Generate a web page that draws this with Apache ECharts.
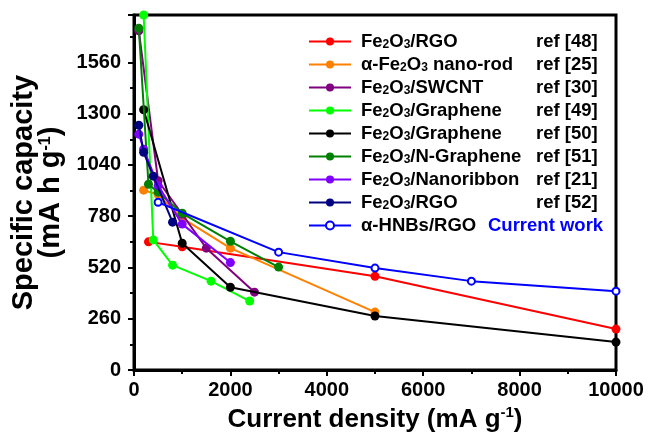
<!DOCTYPE html>
<html><head><meta charset="utf-8">
<script src="https://cdn.jsdelivr.net/npm/echarts@6/dist/echarts.min.js"></script>
<style>html,body{margin:0;padding:0;background:#fff}#c{width:650px;height:438px}</style>
</head><body><div id="c"></div>
<script>
// ---- data ----
const xTicks = [0, 2000, 4000, 6000, 8000, 10000];
const yTicks = [0, 260, 520, 780, 1040, 1300, 1560];
const seriesNames = ['Fe2O3/RGO', 'α-Fe2O3 nano-rod', 'Fe2O3/SWCNT', 'Fe2O3/Graphene', 'Fe2O3/Graphene',
  'Fe2O3/N-Graphene', 'Fe2O3/Nanoribbon', 'Fe2O3/RGO', 'α-HNBs/RGO'];
const refs = ['ref [48]', 'ref [25]', 'ref [30]', 'ref [49]', 'ref [50]', 'ref [51]', 'ref [21]', 'ref [52]', 'Current work'];
const rgo48 = [[300, 650], [1000, 625], [5000, 476], [10000, 208]];
const nanorod25 = [[200, 912], [500, 890], [1000, 770], [2000, 618], [5000, 294]];
const swcnt30 = [[100, 1720], [500, 960], [1000, 790], [1500, 618], [2500, 395]];
const graphene49 = [[200, 1800], [400, 660], [800, 532], [1600, 451], [2400, 350]];
const graphene50 = [[200, 1320], [1000, 643], [2000, 420], [5000, 274], [10000, 142]];
const ngraphene51 = [[100, 1733], [300, 942], [500, 902], [1000, 795], [2000, 653], [3000, 522]];
const nanoribbon21 = [[100, 1196], [200, 1120], [500, 935], [1000, 740], [2000, 545]];
const rgo52 = [[100, 1241], [200, 1104], [400, 983], [800, 750]];
const current = [[500, 851], [3000, 598], [5000, 517], [7000, 451], [10000, 400]];
const allData = [rgo48, nanorod25, swcnt30, graphene49, graphene50, ngraphene51, nanoribbon21, rgo52, current];
const colors = ['#ff0000', '#ff8000', '#800080', '#00ff00', '#000000', '#008000', '#8000ff', '#000080', '#0000ff'];

// ---- helpers ----
const FF = '"Liberation Sans", Arial, sans-serif';
const LF = 18.5, SF = 12;
function segs(name) {
  const out = [];
  let buf = '';
  for (let i = 0; i < name.length; i++) {
    const ch = name[i];
    if (/[0-9]/.test(ch) && i > 0 && /[A-Za-z]/.test(name[i - 1])) {
      if (buf) out.push(['n', buf]); buf = '';
      out.push(['s', ch]);
    } else buf += ch;
  }
  if (buf) out.push(['n', buf]);
  return out;
}
const cv = document.createElement('canvas').getContext('2d');
function w(txt, size) { cv.font = 'bold ' + size + 'px ' + FF; return cv.measureText(txt).width; }
const rich = {
  n: {fontSize: LF, fontWeight: 'bold', fontFamily: FF, color: '#000', lineHeight: 19},
  s: {fontSize: SF, fontWeight: 'bold', fontFamily: FF, color: '#000', lineHeight: 10, verticalAlign: 'bottom'},
  r: {fontSize: LF, fontWeight: 'bold', fontFamily: FF, color: '#000', lineHeight: 19},
  cw: {fontSize: LF, fontWeight: 'bold', fontFamily: FF, color: '#0000ff', lineHeight: 19}
};
const legendText = {};
seriesNames.forEach((nm, i) => {
  const sg = segs(nm);
  let width = 0;
  sg.forEach(([k, t]) => width += w(t, k === 'n' ? LF : SF));
  const target = i === seriesNames.length - 1 ? 127 : 175;
  const gap = Math.max(2, target - width);
  rich['g' + i] = {width: gap, fontSize: LF, lineHeight: 19};
  const key = nm + ' ' + refs[i];
  legendText[key] = sg.map(([k, t]) => '{' + k + '|' + t + '}').join('') + '{g' + i + '| }' +
    '{' + (i === seriesNames.length - 1 ? 'cw' : 'r') + '|' + refs[i] + '}';
});

const series = allData.map((d, i) => ({
  name: seriesNames[i] + ' ' + refs[i],
  type: 'line',
  data: d,
  symbol: i === allData.length - 1 ? 'emptyCircle' : 'circle',
  symbolSize: i === allData.length - 1 ? 7 : 9,
  color: colors[i],
  lineStyle: {width: 2, color: colors[i]},
  itemStyle: {color: colors[i], borderColor: colors[i], borderWidth: i === allData.length - 1 ? 3 : 0},
  z: 2 + i
}));

const chart = echarts.init(document.getElementById('c'), null, {renderer: 'canvas'});
chart.setOption({
  animation: false,
  backgroundColor: '#fff',
  grid: {left: 134, right: 34, top: 15, bottom: 67, show: true, borderColor: '#000', borderWidth: 3, backgroundColor: 'transparent'},
  legend: {
    orient: 'vertical', left: 303, top: 27,
    itemWidth: 42, itemHeight: 10, itemGap: 4,
    data: series.map(s => s.name),
    formatter: n => legendText[n],
    textStyle: {rich: rich, padding: [0, 0, 0, 5]}
  },
  xAxis: {
    type: 'value', min: xTicks[0], max: xTicks[xTicks.length - 1], interval: xTicks[1] - xTicks[0],
    name: '{t|Current density (mA g}{sup|-1}{t|)}', nameLocation: 'middle', nameGap: 24,
    nameTextStyle: {rich: {
      t: {fontSize: 26, fontWeight: 'bold', fontFamily: FF, color: '#000', lineHeight: 30},
      sup: {fontSize: 15, fontWeight: 'bold', fontFamily: FF, color: '#000', lineHeight: 15, verticalAlign: 'top'}
    }},
    axisLine: {lineStyle: {color: '#000', width: 3}},
    axisTick: {show: true, length: 6, lineStyle: {width: 2, color: '#000'}},
    minorTick: {show: true, splitNumber: 2, length: 4, lineStyle: {width: 2, color: '#000'}},
    splitLine: {show: false},
    axisLabel: {fontSize: 20, fontWeight: 'bold', fontFamily: FF, color: '#000', margin: 10,
      formatter: v => String(v)}
  },
  yAxis: {
    type: 'value', min: yTicks[0], max: 1800, interval: yTicks[1] - yTicks[0],
    name: '{t|Specific capacity}\n{t|(mA h g}{sup|-1}{t|)}', nameLocation: 'middle', nameGap: 67, nameRotate: 90,
    nameTextStyle: {align: 'center', rich: {
      t: {fontSize: 29, fontWeight: 'bold', fontFamily: FF, color: '#000', lineHeight: 27, align: 'center'},
      sup: {fontSize: 16, fontWeight: 'bold', fontFamily: FF, color: '#000', lineHeight: 14, verticalAlign: 'top'}
    }},
    axisLine: {show: true, lineStyle: {color: '#000', width: 3}},
    axisTick: {show: true, length: 6, lineStyle: {width: 2, color: '#000'}},
    minorTick: {show: true, splitNumber: 2, length: 4, lineStyle: {width: 2, color: '#000'}},
    splitLine: {show: false},
    axisLabel: {fontSize: 20, fontWeight: 'bold', fontFamily: FF, color: '#000', margin: 13,
      formatter: v => (yTicks.indexOf(v) >= 0 ? String(v) : '')}
  },
  series: series
});
</script></body></html>
